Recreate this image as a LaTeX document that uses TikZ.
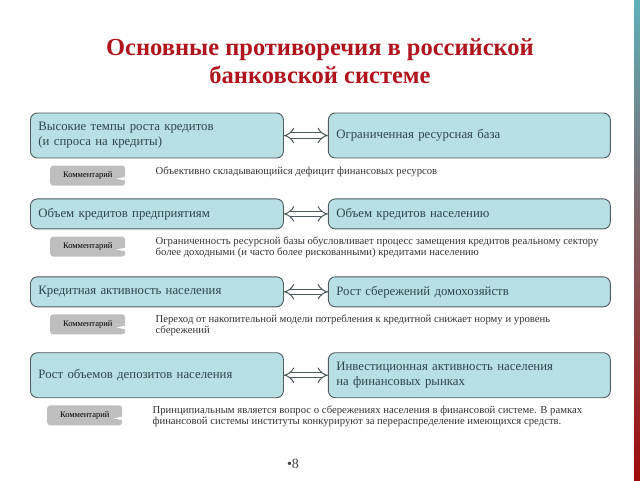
\documentclass[tikz,border=0pt]{standalone}
\usepackage{fontspec}
\setmainfont{Liberation Serif}
\usetikzlibrary{positioning,arrows.meta,calc}
\definecolor{titlered}{HTML}{B0141C}
\definecolor{boxfill}{HTML}{B8DFE3}
\definecolor{boxline}{HTML}{4D5A5E}
\definecolor{boxtext}{HTML}{2D4650}
\definecolor{cmgray}{HTML}{BEBEBE}
\definecolor{stripteal}{HTML}{5FB0B8}
\definecolor{stripred}{HTML}{A00A0A}
\tikzset{pairbox/.style={
        draw=boxline,
        fill=boxfill,
        rounded corners=7pt,
        line width=0.9pt,
        minimum height=30pt,
        text width=237pt,
        inner xsep=8pt,
        inner ysep=4pt,
        align=left,
        text=boxtext,
        font=\fontsize{12.8}{15}\selectfont } }
\tikzset{pairboxr/.style={ pairbox, text width=266pt } }
\tikzset{cmbtn/.style={
        fill=cmgray,
        rounded corners=3pt,
        minimum width=75pt,
        minimum height=20pt,
        inner sep=0pt,
        font=\fontsize{8.5}{9}\selectfont } }
\tikzset{cmtext/.style={
        inner sep=0pt,
        align=left,
        text=black!80,
        font=\fontsize{10.7}{11}\selectfont } }
\tikzset{link/.style={
        draw=boxline,
        double=white,
        double distance=4.5pt,
        line width=1pt,
        {Implies}-{Implies} } }

\begin{document}
\begin{tikzpicture}[x=1pt,y=-1pt]
\useasboundingbox (0,0) rectangle (640,480);

%TITLE
\node (title) at (320,61) [align=center,text=titlered,
font=\fontsize{24.5}{28}\selectfont\bfseries]
{Основные противоречия в российской\\банковской системе};

%BOXES
\node[pairbox, minimum height=45pt] (creditL) [anchor=west] at (30,135.5)
{Высокие темпы роста кредитов\\(и спроса на кредиты)};
\node[pairboxr, minimum height=45pt] (creditR) [right = 44pt of creditL]
{Ограниченная ресурсная база};

\node[pairbox] (corpL) [below = 40pt of creditL] {Объем кредитов предприятиям};
\node[pairboxr] (corpR) [right = 44pt of corpL] {Объем кредитов населению};

\node[pairbox] (actL) [below = 47pt of corpL] {Кредитная активность населения};
\node[pairboxr] (actR) [right = 44pt of actL] {Рост сбережений домохозяйств};

\node[pairbox, minimum height=45pt] (depL) [below = 45pt of actL]
{Рост объемов депозитов населения};
\node[pairboxr, minimum height=45pt] (depR) [right = 44pt of depL]
{Инвестиционная активность населения\\на финансовых рынках};

%LINKS
\path[link] (creditL) -- (creditR);
\path[link] (corpL) -- (corpR);
\path[link] (actL) -- (actR);
\path[link] (depL) -- (depR);

%COMMENTS
\node[cmbtn] (cm1) [below right = 7pt and 20pt of creditL.south west] {Комментарий};
\node[cmbtn] (cm2) [below right = 7pt and 20pt of corpL.south west] {Комментарий};
\node[cmbtn] (cm3) [below right = 7pt and 20pt of actL.south west] {Комментарий};
\node[cmbtn] (cm4) [below right = 7pt and 17pt of depL.south west] {Комментарий};
\foreach \c in {cm1,cm2,cm3,cm4}
  \fill[white] ($(\c.east)+(-9,3)$) -- ($(\c.east)+(1,1)$) -- ($(\c.east)+(1,5)$) -- cycle;

\node[cmtext] (tx1) [below right = 1pt and 30pt of cm1.north east]
{Объективно складывающийся дефицит финансовых ресурсов};
\node[cmtext] (tx2) [below right = 0pt and 30pt of cm2.north east]
{Ограниченность ресурсной базы обусловливает процесс замещения кредитов реальному сектору\\
более доходными (и часто более рискованными) кредитами населению};
\node[cmtext] (tx3) [below right = 0pt and 30pt of cm3.north east]
{Переход от накопительной модели потребления к кредитной снижает норму и уровень\\
сбережений};
\node[cmtext] (tx4) [below right = 0pt and 30pt of cm4.north east]
{Принципиальным является вопрос о сбережениях населения в финансовой системе. В рамках\\
финансовой системы институты конкурируют за перераспределение имеющихся средств.};

%PAGE NUMBER
\node (pgnum) at (293,464) [text=black!75,font=\fontsize{14}{16}\selectfont]
{\textbullet 8};

%RIGHT STRIP
\shade[top color=stripteal, middle color=gray!70!black, bottom color=stripred]
(634,0) rectangle (640,480);
\end{tikzpicture}
\end{document}
